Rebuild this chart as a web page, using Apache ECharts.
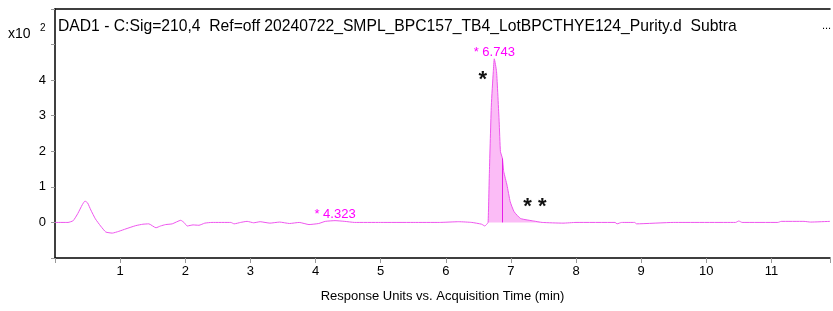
<!DOCTYPE html>
<html>
<head>
<meta charset="utf-8">
<script src="https://cdn.jsdelivr.net/npm/echarts@6/dist/echarts.min.js"></script>
<style>
html, body { margin: 0; padding: 0; background: #fff; }
#chart { width: 833px; height: 311px; }
</style>
</head>
<body>
<div id="chart"></div>
<script>
// chromatogram trace, time (min) vs response (x10^2)
const traceTime = [0, 0.2, 0.28, 0.35, 0.42, 0.46, 0.5, 0.55, 0.62, 0.7, 0.78, 0.88, 0.98, 1.09, 1.24, 1.35, 1.44, 1.55, 1.62, 1.7, 1.8, 1.93, 1.98, 2.03, 2.12, 2.21, 2.3, 2.41, 2.7, 2.75, 2.85, 2.95, 3.05, 3.15, 3.3, 3.45, 3.6, 3.75, 3.9, 4.05, 4.15, 4.3, 4.45, 4.6, 5.0, 5.5, 5.9, 6.2, 6.4, 6.55, 6.6, 6.63, 6.65, 6.67, 6.7, 6.73, 6.745, 6.78, 6.82, 6.84, 6.87, 6.89, 6.94, 6.99, 7.05, 7.15, 7.35, 7.48, 7.8, 8.0, 8.6, 8.63, 8.7, 8.9, 8.93, 9.5, 10.45, 10.5, 10.55, 11.1, 11.15, 11.5, 11.6, 11.9];
const traceResp = [0, 0, 0.05, 0.25, 0.5, 0.6, 0.55, 0.35, 0.1, -0.1, -0.27, -0.3, -0.25, -0.18, -0.09, -0.05, -0.04, -0.15, -0.1, -0.06, -0.04, 0.06, 0.0, -0.1, -0.07, -0.08, -0.02, 0, 0, -0.04, 0.0, 0.03, -0.01, 0.02, -0.02, 0.01, -0.03, 0, -0.06, -0.03, 0.03, 0.05, 0.03, 0, 0, 0, 0, 0.02, 0, -0.05, -0.1, -0.05, 0, 1.42, 3.3, 4.24, 4.6, 4.24, 2.83, 1.99, 1.8, 1.43, 1.05, 0.58, 0.3, 0.11, 0.04, 0, -0.02, 0, 0, -0.04, 0, 0, -0.04, 0, 0, 0.04, 0, 0, 0.03, 0.03, 0.01, 0.03];
const peakStart = 6.65;
const peakEnd = 7.48;
const dropTime = 6.87;
const dropResp = 1.8;
const peakLabels = [
  { time: 6.745, resp: 4.6, text: '* 6.743' },
  { time: 4.3, resp: 0.05, text: '* 4.323' }
];
const starNotes = [
  { time: 6.57, resp: 4.0, text: '*' },
  { time: 7.37, resp: 0.43, text: '* *' }
];
const xTicks = [1, 2, 3, 4, 5, 6, 7, 8, 9, 10, 11];
const yTickLabels = [0, 1, 2, 3, 4];

const trace = traceTime.map((t, i) => [t, traceResp[i]]);
const peakPart = trace.filter(p => p[0] >= peakStart && p[0] <= peakEnd);

const chartDom = document.getElementById('chart');
const myChart = echarts.init(chartDom);
const font = 'Liberation Sans, Arial, sans-serif';
const option = {
  animation: false,
  textStyle: { fontFamily: font },
  title: {
    text: 'DAD1 - C:Sig=210,4  Ref=off 20240722_SMPL_BPC157_TB4_LotBPCTHYE124_Purity.d  Subtra',
    left: 53,
    top: 14,
    textStyle: { fontSize: 15.7, fontWeight: 'normal', color: '#000', fontFamily: font }
  },
  graphic: [
    { type: 'text', left: 8, top: 27, style: { text: 'x10', fontSize: 14, fill: '#000', fontFamily: font } },
    { type: 'text', left: 40, top: 23, style: { text: '2', fontSize: 10, fill: '#000', fontFamily: font } },
    { type: 'text', left: 822, top: 20, style: { text: '...', fontSize: 11, fill: '#000', fontFamily: font } }
  ],
  grid: { left: 55, right: 0, top: 9, bottom: 53 },
  xAxis: [{
    type: 'value',
    min: 0,
    max: 11.9,
    interval: 1,
    name: 'Response Units vs. Acquisition Time (min)',
    nameLocation: 'middle',
    nameGap: 32,
    nameTextStyle: { fontSize: 13, color: '#000', fontFamily: font },
    axisLine: { onZero: false, lineStyle: { color: '#000', width: 1.5 } },
    axisTick: { lineStyle: { color: '#999' }, length: 5 },
    axisLabel: {
      fontSize: 13, color: '#000', margin: 7,
      formatter: v => xTicks.indexOf(v) >= 0 ? String(v) : ''
    },
    splitLine: { show: false }
  }, {
    type: 'value',
    position: 'top',
    min: 0,
    max: 11.9,
    axisLine: { onZero: false, lineStyle: { color: '#000', width: 1.5 } },
    axisTick: { show: false },
    axisLabel: { show: false },
    splitLine: { show: false }
  }],
  yAxis: {
    type: 'value',
    min: -1,
    max: 6,
    interval: 1,
    axisLine: { show: true, onZero: false, lineStyle: { color: '#000', width: 1.5 } },
    axisTick: { show: true, lineStyle: { color: '#999' }, length: 4 },
    axisLabel: {
      fontSize: 13, color: '#000', margin: 9,
      formatter: v => yTickLabels.indexOf(v) >= 0 ? String(v) : ''
    },
    splitLine: { show: false }
  },
  series: [
    {
      type: 'line',
      data: peakPart,
      symbol: 'none',
      smooth: 0.15,
      lineStyle: { width: 0 },
      areaStyle: { color: '#fbbcf6', opacity: 1, origin: 0 },
      z: 1,
      markLine: {
        symbol: 'none',
        silent: true,
        label: { show: false },
        lineStyle: { color: '#e81ee8', width: 1, type: 'solid' },
        data: [[{ coord: [dropTime, 0] }, { coord: [dropTime, dropResp] }]]
      }
    },
    {
      type: 'line',
      data: trace,
      symbol: 'none',
      smooth: 0.15,
      lineStyle: { color: '#ee55ee', width: 1 },
      z: 2,
      markPoint: {
        symbol: 'circle',
        symbolSize: 0,
        silent: true,
        data: peakLabels.map(p => ({
          coord: [p.time, p.resp],
          label: {
            show: true, formatter: p.text, position: 'top', distance: 0,
            color: '#ff00ff', fontSize: 13, fontFamily: font
          }
        })).concat(starNotes.map(s => ({
          coord: [s.time, s.resp],
          label: {
            show: true, formatter: s.text, position: 'inside',
            color: '#111', fontSize: 22, fontWeight: 'bold', fontFamily: font
          }
        })))
      }
    }
  ]
};
option && myChart.setOption(option);
window.addEventListener('resize', myChart.resize);
</script>
</body>
</html>
